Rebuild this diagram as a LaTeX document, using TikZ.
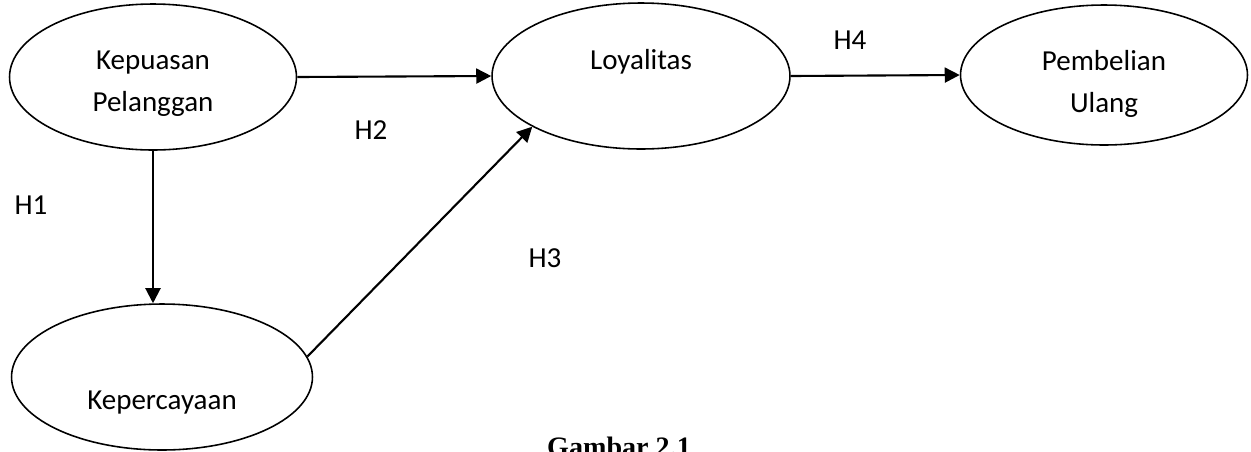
\documentclass[tikz,border=0pt]{standalone}
\usepackage{fontspec}
\setmainfont{Carlito}
\newfontfamily\captionserif{Liberation Serif}
\usetikzlibrary{arrows.meta, positioning, shapes.geometric}

\begin{document}
\begin{tikzpicture}[
    x=0.02cm, y=-0.02cm,
    construct/.style={ellipse, draw=black, line width=0.9pt, inner sep=0pt, minimum width=5.8cm, minimum height=2.92cm},
    lbl/.style={font=\fontsize{16.5}{24}\selectfont, align=center, inner sep=0pt},
    hyp/.style={font=\fontsize{16.5}{20}\selectfont, inner sep=0pt},
    arrow/.style={-{Triangle[length=0.3cm, width=0.3cm]}, line width=1.2pt}
]
    \clip (0,0) rectangle (1251,451);

    % constructs
    \node[construct, minimum width=5.74cm] (kepuasan) at (153,77) {};
    \node[construct, minimum width=5.96cm] (loyalitas) at (641,76) {};
    \node[construct, minimum width=5.74cm, minimum height=2.8cm] (pembelian) at (1104,75) {};
    \node[construct, minimum width=6.02cm] (kepercayaan) at (162,377) {};

    \node[lbl] (kepuasanTxt) at (153,84) {Kepuasan\\Pelanggan};
    \node[lbl] (loyalitasTxt) at (641,62) {Loyalitas};
    \node[lbl] (pembelianTxt) at (1104,84) {Pembelian\\Ulang};
    \node[lbl] (kepercayaanTxt) at (162,403) {Kepercayaan};

    % paths
    \draw[arrow] (kepuasan.south) -- (kepuasan.south |- kepercayaan.north);
    \draw[arrow] (kepuasan.east) -- (loyalitas.west);
    \draw[arrow] (kepercayaan.8) -- (loyalitas.205);
    \draw[arrow] (loyalitas.east) -- (pembelian.west);

    % hypotheses
    \node[hyp] (h1) at (31,205) {H1};
    \node[hyp] (h2) at (371,130) {H2};
    \node[hyp] (h3) at (545,258) {H3};
    \node[hyp] (h4) at (850,40) {H4};

    \node[font=\captionserif\bfseries\fontsize{16}{20}\selectfont, anchor=base, inner sep=0pt] (caption) at (619,456) {Gambar 2.1};
\end{tikzpicture}
\end{document}
